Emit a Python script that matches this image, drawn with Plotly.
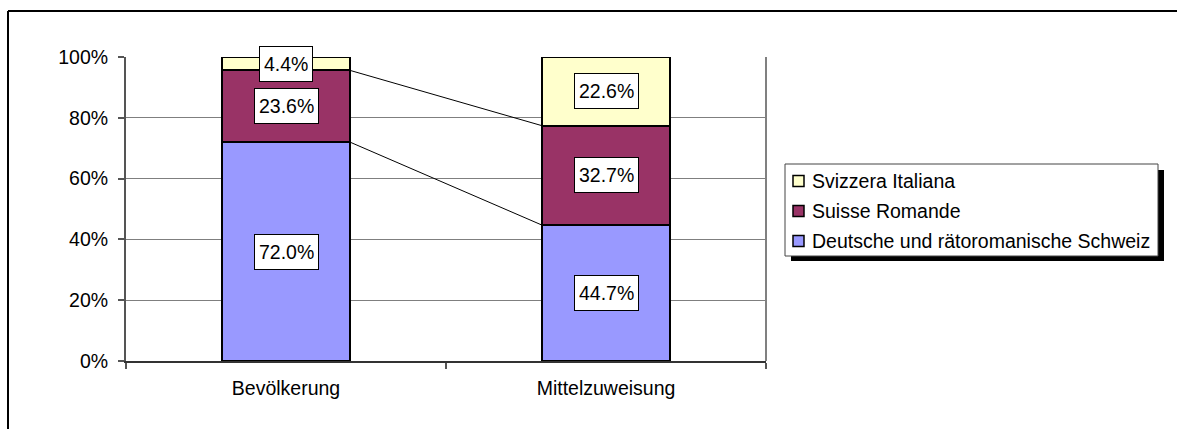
import plotly.graph_objects as go

categories = ["Bevölkerung", "Mittelzuweisung"]
series_names = ["Deutsche und rätoromanische Schweiz", "Suisse Romande", "Svizzera Italiana"]
deutsch = [72.0, 44.7]
romande = [23.6, 32.7]
italiana = [4.4, 22.6]
colors = ["#9999FF", "#993366", "#FFFFCC"]
y_ticks = [0, 20, 40, 60, 80, 100]

W, H = 1177, 429
L, R, T, B = 126, 766, 57, 361
FONT = "Liberation Sans, Arial, sans-serif"
FS = 19.5

def px(x):
    return (x - L) / (R - L)

def py(y):
    return (B - y) / (B - T)

xs = list(range(len(categories)))
series = [deutsch, romande, italiana]
bw = 0.4

fig = go.Figure()
for name, vals, col in zip(series_names, series, colors):
    fig.add_trace(go.Bar(x=xs, y=vals, name=name, width=bw,
                         marker=dict(color=col, line=dict(color="black", width=2)),
                         showlegend=False, hoverinfo="skip"))

# cumulative tops
cum = []
run = [0.0] * len(xs)
for vals in series:
    run = [a + b for a, b in zip(run, vals)]
    cum.append(list(run))

# series lines between bars
for lvl in cum[:-1]:
    fig.add_trace(go.Scatter(x=[xs[0] + bw / 2, xs[1] - bw / 2], y=[lvl[0], lvl[1]],
                             mode="lines", line=dict(color="black", width=1),
                             showlegend=False, hoverinfo="skip"))

# value labels
annotations = []
base = [0.0] * len(xs)
for vals in series:
    for i, v in enumerate(vals):
        annotations.append(dict(x=xs[i], y=base[i] + v / 2, xref="x", yref="y",
                                text=f"{v:.1f}%", showarrow=False, height=26,
                                font=dict(family=FONT, size=FS, color="black"),
                                bgcolor="white", bordercolor="black", borderwidth=1,
                                borderpad=4))
    base = [a + b for a, b in zip(base, vals)]

shapes = []
# outer chart border (left and top edges visible)
shapes.append(dict(type="line", xref="paper", yref="paper",
                   x0=px(8), x1=px(8), y0=py(11), y1=py(H + 5),
                   line=dict(color="black", width=2)))
shapes.append(dict(type="line", xref="paper", yref="paper",
                   x0=px(8), x1=px(W + 5), y0=py(11), y1=py(11),
                   line=dict(color="black", width=2)))
# right plot border
shapes.append(dict(type="line", xref="paper", yref="paper", x0=1, x1=1, y0=0, y1=1,
                   line=dict(color="#808080", width=2)))

# custom legend
lx0, lx1, ly0, ly1 = 785, 1158, 164, 256
shapes.append(dict(type="rect", xref="paper", yref="paper",
                   x0=px(lx0 + 6), x1=px(lx1 + 6), y0=py(ly0 + 6), y1=py(ly1 + 5),
                   line=dict(width=0), fillcolor="black"))
shapes.append(dict(type="rect", xref="paper", yref="paper",
                   x0=px(lx0), x1=px(lx1), y0=py(ly0), y1=py(ly1),
                   line=dict(color="#444444", width=1), fillcolor="white"))
rows = [181, 211, 241]
for name, col, ry in zip(series_names[::-1], colors[::-1], rows):
    shapes.append(dict(type="rect", xref="paper", yref="paper",
                       x0=px(793), x1=px(804), y0=py(ry - 5.5), y1=py(ry + 5.5),
                       line=dict(color="black", width=1.5), fillcolor=col))
    annotations.append(dict(x=px(810), y=py(ry), xref="paper", yref="paper",
                            xanchor="left", yanchor="middle", text=name, showarrow=False,
                            font=dict(family=FONT, size=FS, color="black")))

fig.update_layout(
    width=W, height=H,
    margin=dict(l=L, r=W - R, t=T, b=H - B, pad=0),
    paper_bgcolor="white", plot_bgcolor="white",
    barmode="stack", bargap=0,
    font=dict(family=FONT, size=FS, color="black"),
    annotations=annotations, shapes=shapes,
    xaxis=dict(range=[-0.5, 1.5], tickvals=xs, ticktext=categories, ticks="",
               showgrid=False, zeroline=False, showline=True, linecolor="#333333", linewidth=2,
               ticklabelstandoff=9,
               minor=dict(tickmode="array", tickvals=[-0.5, 0.5, 1.5], ticks="outside",
                          ticklen=6, tickwidth=1.5, tickcolor="#555555", showgrid=False),
               fixedrange=True),
    yaxis=dict(range=[0, 100], tickvals=y_ticks, ticktext=[f"{t}%" for t in y_ticks],
               ticks="outside", ticklen=6, tickwidth=1.5, tickcolor="#555555",
               showgrid=True, gridcolor="#7f7f7f", gridwidth=1, zeroline=False,
               showline=True, linecolor="#555555", linewidth=2, ticklabelstandoff=6,
               fixedrange=True),
)

fig.write_html("out.html", config={"displayModeBar": False},
               post_script="document.body.style.margin='0';document.body.style.overflow='hidden';")
